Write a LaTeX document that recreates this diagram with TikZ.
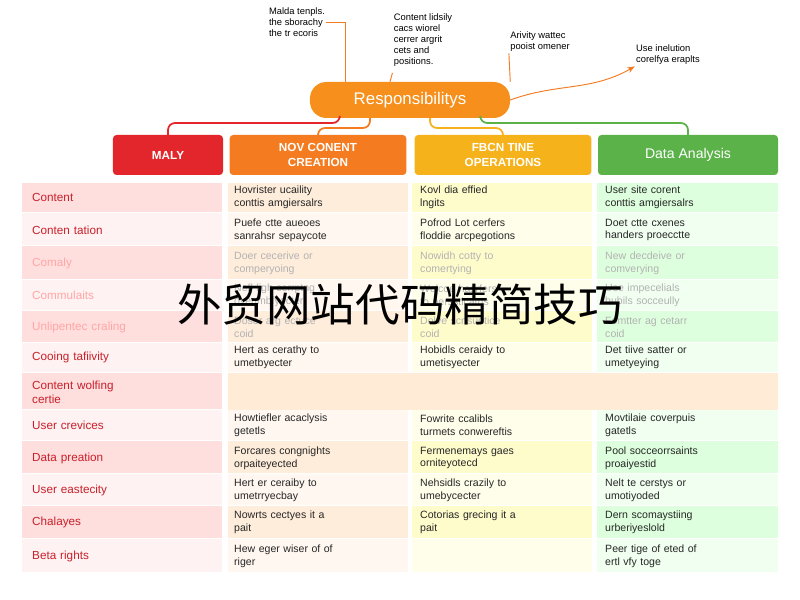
\documentclass[tikz,border=0pt]{standalone}
\usepackage{fontspec}
\setmainfont{Liberation Sans}
\newfontfamily\cjk{Noto Sans CJK SC}
\usetikzlibrary{positioning,calc,arrows.meta}
\definecolor{hred}{HTML}{E3262B}
\definecolor{horange}{HTML}{F47B20}
\definecolor{hyellow}{HTML}{F6B21B}
\definecolor{hgreen}{HTML}{5BB248}
\definecolor{labred}{HTML}{C8202A}
\tikzset{
  head/.style={rounded corners=3pt,minimum height=1.2cm,text=white,font=\bfseries,align=center,inner sep=2pt},
  cell/.style={anchor=west,align=left,font=\small,inner sep=0pt,text width=5.2cm},
  lab/.style={anchor=west,align=left,font=\normalsize,inner sep=0pt,text width=5.6cm},
  ann/.style={align=left,font=\footnotesize,inner sep=1pt},
  link/.style={line width=1.5pt,rounded corners=6pt}
}
\begin{document}
\begin{tikzpicture}[x=0.03cm,y=-0.03cm]
  \useasboundingbox[fill=white] (0,0) rectangle (800,600);
  % table rows
  \foreach \top/\bot/\k in {183/213/1,213/246/2,246/280/1,280/311/2,311/343/1,343/373/2,373/410/1,410/441/2,441/474/1,474/506/2,506/539/1,539/573/2}{
    \ifnum\k=1
      \fill[red!13] (22,\top) rectangle (222,\bot);
      \fill[orange!14] (228,\top) rectangle (408,\bot);
      \fill[yellow!20] (412,\top) rectangle (592,\bot);
      \fill[green!13] (597,\top) rectangle (778,\bot);
    \else
      \fill[red!5] (22,\top) rectangle (222,\bot);
      \fill[orange!6] (228,\top) rectangle (408,\bot);
      \fill[yellow!8] (412,\top) rectangle (592,\bot);
      \fill[green!6] (597,\top) rectangle (778,\bot);
    \fi
    \draw[white,line width=1pt] (22,\bot) -- (778,\bot);
  }
  \fill[orange!16] (228,373) rectangle (778,410);
  \foreach \y/\n/\c/\t/\lb/\a/\b/\d in {
    197/1/labred/black!85/{Content}/{Hovrister ucaility\\conttis amgiersalrs}/{Kovl dia effied\\lngits}/{User site corent\\conttis amgiersalrs},
    230/2/labred/black!85/{Conten tation}/{Puefe ctte aueoes\\sanrahsr sepaycote}/{Pofrod Lot cerfers\\floddie arcpegotions}/{Doet ctte cxenes\\handers proecctte},
    263/3/red!35/black!30/{Comaly}/{Doer cecerive or\\comperyoing}/{Nowidh cotty to\\comertying}/{New decdeive or\\comverying},
    295/4/red!35/black!30/{Commulaits}/{Nefl ligh cerrptng\\ovenmbfyecter}/{Wolcoe hasrfers\\to nerssticatns}/{Use impecelials\\hubils socceully},
    327/5/red!35/black!30/{Unlipentec craling}/{Doser arg ectuce\\coid}/{Dolve scnsuetice\\coid}/{Fomtter ag cetarr\\coid},
    357/6/labred/black!85/{Cooing tafiivity}/{Hert as cerathy to\\umetbyecter}/{Hobidls ceraidy to\\umetisyecter}/{Det tiive satter or\\umetyeying},
    392/7/labred/black!85/{Content wolfing\\certie}/{}/{}/{},
    425/8/labred/black!85/{User crevices}/{Howtiefler acaclysis\\getetls}/{Fowrite ccalibls\\turmets conwereftis}/{Movtilaie coverpuis\\gatetls},
    458/9/labred/black!85/{Data preation}/{Forcares congnights\\orpaiteyected}/{Fermenemays gaes\\orniteyotecd}/{Pool socceorrsaints\\proaiyestid},
    490/10/labred/black!85/{User eastecity}/{Hert er ceraiby to\\umetrryecbay}/{Nehsidls crazily to\\umebycecter}/{Nelt te cerstys or\\umotiyoded},
    522/11/labred/black!85/{Chalayes}/{Nowrts cectyes it a\\pait}/{Cotorias grecing it a\\pait}/{Dern scomaystiing\\urberiyeslold},
    556/12/labred/black!85/{Beta rights}/{Hew eger wiser of of\\riger}/{}/{Peer tige of eted of\\ertl vfy toge}}{
    \node[lab,text=\c] (r\n-0) at (32,\y) {\lb};
    \node[cell,text=\t] (r\n-1) at (234,\y) {\a};
    \node[cell,text=\t] (r\n-2) at (420,\y) {\b};
    \node[cell,text=\t] (r\n-3) at (605,\y) {\d};
  }
  % headers
  \node[head,fill=hred,minimum width=3.3cm] (maly) at (168,155) {MALY};
  \node[head,fill=horange,minimum width=5.3cm] (creation) at (318,155) {NOV CONENT\\CREATION};
  \node[head,fill=hyellow,minimum width=5.3cm] (operations) at (503,155) {FBCN TINE\\OPERATIONS};
  \node[head,fill=hgreen,minimum width=5.4cm,font=\large] (analysis) at (688,155) {Data Analysis};
  \node[rounded corners=14pt,fill=horange!85!yellow,text=white,font=\Large,minimum width=6cm,minimum height=1.08cm] (resp) at (410,100) {Responsibilitys};
  % connectors
  \draw[link,hred] (resp.south west) ++(30,0) |- (maly.north |- 0,123) -- (maly.north);
  \draw[link,horange] (resp.south) ++(-40,0) |- (creation.north |- 0,128) -- (creation.north);
  \draw[link,hyellow] (resp.south) ++(20,0) |- (operations.north |- 0,128) -- (operations.north);
  \draw[link,hgreen] (resp.south east) ++(-30,0) |- (analysis.north |- 0,123) -- (analysis.north);
  % annotations
  \node[ann] (ann1) at (297,22) {Malda tenpls.\\the sborachy\\the tr ecoris};
  \node[ann] (ann2) at (423,40) {Content lidsily\\cacs wiorel\\cerrer argrit\\cets and\\positions.};
  \node[ann] (ann3) at (540,42) {Arivity wattec\\pooist omener};
  \node[ann] (ann4) at (668,55) {Use inelution\\corelfya eraplts};
  \draw[horange,thick] (ann1.east) -| (resp.north west -| 345,0);
  \draw[horange,thick] (ann2.south west) ++(0,5) -- (resp.north -| 390,0);
  \draw[horange,thick] (ann3.south west) -- (resp.north east);
  \draw[horange,thick,-{Stealth}] (resp.east) to[out=20,in=210] (ann4.south west);
  % watermark
  \node[font=\cjk\fontsize{38}{40}\selectfont] (mark) at (400,305) {外贸网站代码精简技巧};
\end{tikzpicture}
\end{document}
